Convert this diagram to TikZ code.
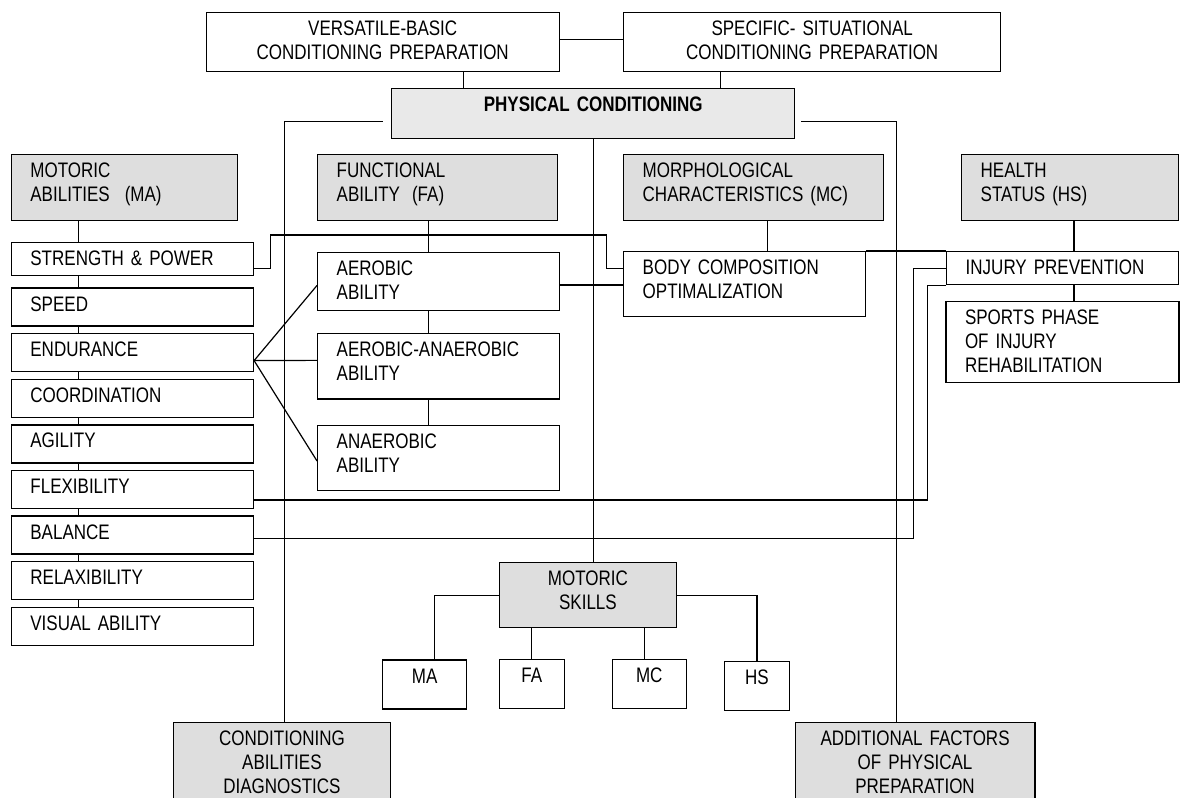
\documentclass[tikz,border=0pt]{standalone}
\usepackage{fontspec}
\setmainfont{Liberation Sans}[FakeStretch=0.81,WordSpace=0.8]
\usepackage{tikz}
\usetikzlibrary{positioning,calc}
\definecolor{catgray}{HTML}{DEDEDE}
\definecolor{pcgray}{HTML}{E9E9E9}
\tikzset{
  base/.style={draw, line width=1.4pt, fill=white, anchor=north west, inner ysep=0pt, text height=23pt},
  sized/.code n args={3}{\pgfmathsetmacro\boxw{#1-2*#3}\pgfmathsetmacro\boxd{#2-23}%
    \pgfkeysalso{/tikz/inner xsep=#3pt, /tikz/text width/.expanded=\boxw pt, /tikz/text depth/.expanded=\boxd pt}},
  lbox/.style 2 args={base, sized={#1}{#2}{19}, align=left},
  cbox/.style 2 args={base, sized={#1}{#2}{8}, align=center},
  cat/.style={fill=catgray},
  link/.style={line width=1.2pt}
}
\begin{document}
\begin{tikzpicture}[x=1pt,y=-1pt,every node/.style={font=\fontsize{21}{24}\selectfont}]
  \useasboundingbox (0,0) rectangle (1181,798);
  \clip (0,0) rectangle (1181,798);
  \node[cbox={353}{59}] (vers) at (205.5,12) {VERSATILE-BASIC\\CONDITIONING PREPARATION};
  \node[cbox={377}{59}] (spec) at (623,12) {SPECIFIC- SITUATIONAL\\CONDITIONING PREPARATION};
  \node[cbox={403}{50}, fill=pcgray] (pc) at (391,88) {\bfseries PHYSICAL CONDITIONING};
  \node[lbox={226}{66}, cat] (ma) at (10.7,154) {MOTORIC\\ABILITIES\hspace{15pt}(MA)};
  \node[lbox={239.5}{66}, cat] (fa) at (317,154) {FUNCTIONAL\\ABILITY\hspace{12pt}(FA)};
  \node[lbox={260}{66}, cat] (mc) at (623,154) {MORPHOLOGICAL\\CHARACTERISTICS (MC)};
  \node[lbox={217}{66}, cat] (hs) at (961,154) {HEALTH\\STATUS (HS)};
  \node[lbox={242}{33}] (str) at (10.7,242) {STRENGTH \& POWER};
  \foreach \n/\t [count=\i] in {spd/SPEED, endu/ENDURANCE, crd/COORDINATION, agl/AGILITY,
      flx/FLEXIBILITY, bal/BALANCE, rlx/RELAXIBILITY, vis/VISUAL ABILITY}
    \node[lbox={242}{38}] (\n) at (10.7,241.7+45.6*\i) {\t};
  \node[lbox={241.7}{58.5}] (aer) at (317,251.5) {AEROBIC\\ABILITY};
  \node[lbox={241.7}{65.3}] (aa) at (317,333) {AEROBIC-ANAEROBIC\\ABILITY};
  \node[lbox={241.7}{65.5}] (ana) at (317,424.5) {ANAEROBIC\\ABILITY};
  \node[lbox={242}{65}] (body) at (623,251) {BODY COMPOSITION\\OPTIMALIZATION};
  \node[lbox={232}{33}] (inj) at (946,251) {INJURY PREVENTION};
  \node[lbox={233}{81}] (spo) at (945.3,301) {SPORTS PHASE\\OF INJURY\\REHABILITATION};
  \node[cbox={177.5}{65}, cat] (ms) at (498.5,562) {MOTORIC\\SKILLS};
  \node[cbox={84}{49}] (sma) at (382,659.3) {MA};
  \node[cbox={65}{49}] (sfa) at (498.6,659) {FA};
  \node[cbox={74}{49}] (smc) at (611.6,659) {MC};
  \node[cbox={65}{49}] (shs) at (723.8,661) {HS};
  \node[cbox={217.5}{100}, cat] (cad) at (172.5,722) {CONDITIONING\\ABILITIES\\DIAGNOSTICS};
  \node[cbox={239.5}{100}, cat] (afp) at (794.6,722) {ADDITIONAL FACTORS\\OF PHYSICAL\\PREPARATION};
  \coordinate (lk) at (284.7,121.7);
  \coordinate (rk) at (896.5,121.7);
  \coordinate (xma) at (78.5,0);
  \coordinate (xfa) at (428.6,0);
  \coordinate (xmc) at (767.8,0);
  \coordinate (xhs) at (1074,0);
  \coordinate (xb) at (913.3,0);
  \coordinate (xf) at (927.7,0);
  \coordinate (xs) at (434.5,0);
  \draw[link] ([yshift=2.5]vers.east) -- ([yshift=2.5]vers.east -| spec.west);
  \draw[link] ([xshift=80.7]vers.south) -- ([xshift=80.7]vers.south |- pc.north);
  \draw[link] ([xshift=-91.5]spec.south) -- ([xshift=-91.5]spec.south |- pc.north);
  \draw[link] (lk -| pc.west) ++(-8.3,0) -- (lk) -- (lk |- cad.north);
  \draw[link] (rk -| pc.east) ++(5.7,0) -- (rk) -- (rk |- afp.north);
  \draw[link] (pc.south) -- (pc.south |- ms.north);
  \foreach \a/\b in {ma/str, str/spd, spd/endu, endu/crd, crd/agl, agl/flx, flx/bal, bal/rlx, rlx/vis}
    \draw[link] (\a.south -| xma) -- (\b.north -| xma);
  \foreach \a/\b in {fa/aer, aer/aa, aa/ana}
    \draw[link] (\a.south -| xfa) -- (\b.north -| xfa);
  \draw[link] (mc.south -| xmc) -- (body.north -| xmc);
  \foreach \a/\b in {hs/inj, inj/spo}
    \draw[link] (\a.south -| xhs) -- (\b.north -| xhs);
  \draw[link] ([yshift=-9.2]str.east) -- ++(16.3,0) |- (606.8,235) |- ([yshift=15.8]body.west);
  \draw[link] ([yshift=-3.5]aer.east) -- ([yshift=-3.5]aer.east -| body.west);
  \draw[link] (body.north east) -- (inj.north west);
  \draw[link] (inj.west) -| ([yshift=-3.3]bal.east -| xb) -- ([yshift=-3.3]bal.east);
  \draw[link] (inj.south west) -| ([yshift=-10.5]flx.east -| xf) -- ([yshift=-10.5]flx.east);
  \foreach \t/\s in {aer/-4, aa/6, ana/-3}
    \draw[link] ([yshift=-8]endu.east) -- ([yshift=\s]\t.west);
  \draw[link] (ms.west) -| (sma.north -| xs);
  \draw[link] (ms.east) -| (shs.north);
  \draw[link] (ms.south -| sfa.north) -- (sfa.north);
  \draw[link] ([xshift=-4.6]ms.south -| smc.north) -- ([xshift=-4.6]smc.north);
\end{tikzpicture}
\end{document}
